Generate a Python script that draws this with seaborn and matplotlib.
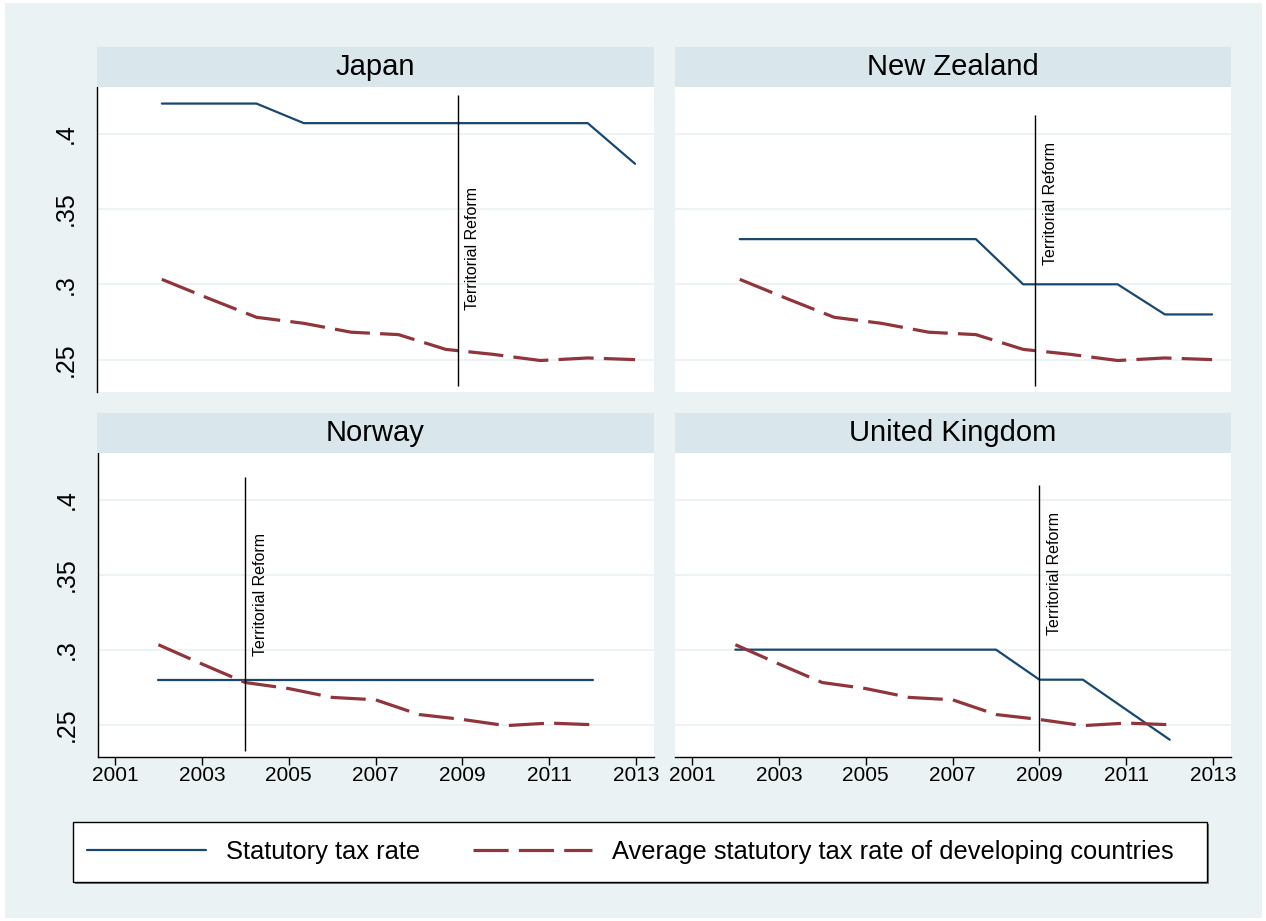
import numpy as np
import pandas as pd
import matplotlib
matplotlib.use("Agg")
import matplotlib.pyplot as plt
import matplotlib.transforms as mtransforms
from matplotlib.patches import Rectangle
from matplotlib.lines import Line2D
import seaborn as sns

# data
years = [2002, 2003, 2004, 2005, 2006, 2007, 2008, 2009, 2010, 2011, 2012]
countries = ["Japan", "New Zealand", "Norway", "United Kingdom"]
japan_rate = [0.42, 0.42, 0.42, 0.407, 0.407, 0.407, 0.407, 0.407, 0.407, 0.407, 0.38]
nz_rate = [0.33, 0.33, 0.33, 0.33, 0.33, 0.33, 0.30, 0.30, 0.30, 0.28, 0.28]
norway_rate = [0.28, 0.28, 0.28, 0.28, 0.28, 0.28, 0.28, 0.28, 0.28, 0.28, 0.28]
uk_rate = [0.30, 0.30, 0.30, 0.30, 0.30, 0.30, 0.30, 0.28, 0.28, 0.26, 0.24]
dev_avg = [0.3033, 0.2905, 0.2781, 0.2741, 0.2682, 0.2666, 0.2568, 0.2535, 0.2494, 0.2511, 0.2500]
reform_year = [2008.25, 2008.25, 2004, 2009]
reform_top = [0.4255, 0.4127, 0.4148, 0.4096]
reform_bottom = 0.2322

x_ticks = [2001, 2003, 2005, 2007, 2009, 2011, 2013]
y_ticks = [0.25, 0.30, 0.35, 0.40]
y_ticklabels = [".25", ".3", ".35", ".4"]
legend_labels = ["Statutory tax rate", "Average statutory tax rate of developing countries"]

rates = [japan_rate, nz_rate, norway_rate, uk_rate]

# colours (Stata s2color look)
navy = "#1A476F"
maroon = "#90353B"
bg = "#EAF2F3"
strip = "#D9E6EB"
gridc = "#EAF2F3"
red_dash = (0, (11, 3.2))

sns.set_style("white")
plt.rcParams["font.family"] = ["Liberation Sans", "DejaVu Sans"]
plt.rcParams["text.color"] = "black"
plt.rcParams["xtick.color"] = "black"
plt.rcParams["ytick.color"] = "black"
plt.rcParams["xtick.labelcolor"] = "black"
plt.rcParams["ytick.labelcolor"] = "black"

W, H = 1266, 921
fig = plt.figure(figsize=(W / 100, H / 100), dpi=100)
fig.patch.set_facecolor("white")
fig.add_artist(Rectangle((5 / W, 1 - 918 / H), 1257 / W, 915 / H,
                         transform=fig.transFigure, facecolor=bg,
                         edgecolor="none", zorder=-5))


def px_axes(x0, y0, x1, y1):
    return fig.add_axes([x0 / W, 1 - y1 / H, (x1 - x0) / W, (y1 - y0) / H])


# plot areas and header strips in pixels
plot_boxes = [(97, 87, 654, 392), (675, 87, 1231, 392),
              (98, 453, 654, 757), (675, 453, 1231, 757)]
head_boxes = [(97, 47, 654, 87), (675, 47, 1231, 87),
              (97, 413, 654, 453), (675, 413, 1231, 453)]
label_y = [0.2827, 0.3125, 0.296, 0.3098]

for i, name in enumerate(countries):
    ax = px_axes(*plot_boxes[i])
    ax.set_facecolor("white")
    sns.lineplot(x=years, y=rates[i], ax=ax, color=navy, linewidth=1.6)
    sns.lineplot(x=years, y=dev_avg, ax=ax, color=maroon, linewidth=2.3,
                 linestyle=red_dash)
    ax.vlines(reform_year[i], reform_bottom, reform_top[i], color="black",
              linewidth=1.0, zorder=4)
    trans = mtransforms.offset_copy(ax.transData, fig=fig, x=5.5, y=0, units="points")
    ax.text(reform_year[i], label_y[i], "Territorial Reform", rotation=90,
            ha="left", va="bottom", fontsize=11.5, color="black", transform=trans)

    top_row = i < 2
    left_col = i % 2 == 0
    if top_row:
        ax.set_xlim(2000.63, 2012.40)
    else:
        ax.set_xlim(2000.61, 2013.41)
    ax.set_ylim(0.2285, 0.4310)

    ax.set_yticks(y_ticks)
    ax.yaxis.grid(True, color=gridc, linewidth=1.3)
    ax.xaxis.grid(False)
    ax.set_axisbelow(True)
    for s in ["top", "right"]:
        ax.spines[s].set_visible(False)
    ax.spines["left"].set_visible(left_col)
    ax.spines["bottom"].set_visible(not top_row)
    ax.spines["left"].set_color("black")
    ax.spines["bottom"].set_color("black")
    ax.spines["left"].set_linewidth(1.0)
    ax.spines["bottom"].set_linewidth(1.0)

    if left_col:
        ax.set_yticklabels(y_ticklabels, rotation=90, va="center", fontsize=18)
        ax.tick_params(axis="y", length=0, pad=14, left=True)
    else:
        ax.tick_params(axis="y", length=0, labelleft=False)

    if top_row:
        ax.set_xticks([])
    else:
        ax.set_xticks(x_ticks)
        ax.set_xticklabels([str(t) for t in x_ticks], fontsize=15)
        ax.tick_params(axis="x", length=5.8, width=1.0, pad=1, bottom=True,
                       color="black")
    ax.set_xlabel("")
    ax.set_ylabel("")

    hx = px_axes(*head_boxes[i])
    hx.set_facecolor(strip)
    hx.set_xticks([])
    hx.set_yticks([])
    for s in hx.spines.values():
        s.set_visible(False)
    hx.text(0.5, 0.5, name, ha="center", va="center", fontsize=21,
            color="black", transform=hx.transAxes)

# legend box with a small shadow
fig.add_artist(Rectangle((74.5 / W, 1 - 884 / H), 1134.3 / W, 60 / H,
                         transform=fig.transFigure, facecolor="#7a7a7a",
                         edgecolor="none", zorder=1))
fig.add_artist(Rectangle((72.7 / W, 1 - 882.3 / H), 1134.3 / W, 60 / H,
                         transform=fig.transFigure, facecolor="white",
                         edgecolor="black", linewidth=1.0, zorder=2))

handles = [Line2D([], [], color=navy, linewidth=1.6),
           Line2D([], [], color=maroon, linewidth=2.3, linestyle=red_dash)]
leg = fig.legend(handles, legend_labels, loc="center left",
                 bbox_to_anchor=(87 / W, 1 - 852 / H), ncol=2, frameon=False,
                 fontsize=18.4, handlelength=4.67, handletextpad=0.78,
                 columnspacing=2.04, borderpad=0, borderaxespad=0)
leg.set_zorder(3)
for t in leg.get_texts():
    t.set_color("black")

fig.savefig("out.png", dpi=100, facecolor=fig.get_facecolor())
